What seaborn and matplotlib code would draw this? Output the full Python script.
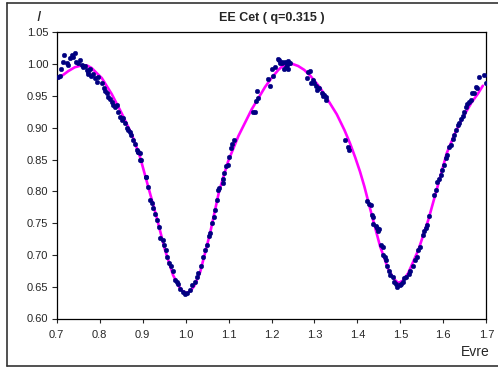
import matplotlib
matplotlib.use("Agg")
import matplotlib.pyplot as plt
from matplotlib.lines import Line2D
import seaborn as sns
import pandas as pd

# fitted light curve (phase, flux)
model_phase = [0.700, 0.715, 0.727, 0.742, 0.758, 0.770, 0.781, 0.805, 0.828, 0.851,
               0.875, 0.894, 0.907, 0.920, 0.933, 0.952, 0.971, 0.985, 0.993, 1.003,
               1.011, 1.020, 1.034, 1.057, 1.078, 1.099, 1.123, 1.154, 1.185, 1.200,
               1.216, 1.226, 1.237, 1.250, 1.262, 1.276, 1.290, 1.313, 1.330, 1.352,
               1.370, 1.383, 1.395, 1.406, 1.416, 1.426, 1.436, 1.453, 1.472, 1.485,
               1.495, 1.505, 1.518, 1.542, 1.565, 1.588, 1.608, 1.625, 1.639, 1.653,
               1.666, 1.680, 1.692]
model_flux = [0.976, 0.983, 0.989, 0.995, 0.998, 0.998, 0.994, 0.978, 0.953, 0.923,
              0.889, 0.854, 0.822, 0.790, 0.758, 0.708, 0.668, 0.650, 0.643, 0.640,
              0.643, 0.651, 0.673, 0.734, 0.800, 0.847, 0.887, 0.929, 0.964, 0.978,
              0.991, 0.997, 1.000, 1.000, 0.997, 0.991, 0.982, 0.963, 0.945, 0.921,
              0.896, 0.875, 0.853, 0.831, 0.808, 0.782, 0.756, 0.713, 0.677, 0.662,
              0.656, 0.659, 0.671, 0.708, 0.755, 0.811, 0.860, 0.888, 0.908, 0.925,
              0.940, 0.953, 0.966]

# observed points
obs_phase = [
    0.702, 0.708, 0.710, 0.715, 0.718, 0.723, 0.727, 0.731, 0.735, 0.739,
    0.743, 0.746, 0.750, 0.754, 0.758, 0.762, 0.766, 0.770, 0.774, 0.774,
    0.777, 0.781, 0.785, 0.789, 0.793, 0.797, 0.805, 0.811, 0.812, 0.816,
    0.820, 0.824, 0.828, 0.832, 0.836, 0.840, 0.843, 0.847, 0.851, 0.855,
    0.859, 0.863, 0.867, 0.871, 0.874, 0.878, 0.882, 0.886, 0.890, 0.894,
    0.896, 0.907,
    0.890, 0.894, 0.908, 0.913, 0.917, 0.921, 0.925, 0.929, 0.934, 0.939,
    0.940, 0.947, 0.950, 0.954, 0.957, 0.962, 0.965, 0.970, 0.975, 0.979,
    0.983, 0.987, 0.993, 0.999, 1.004, 1.010, 1.016, 1.022, 1.026, 1.030,
    1.035, 1.040, 1.045, 1.049, 1.055, 1.058, 1.061, 1.065, 1.068, 1.072,
    1.076,
    1.078, 1.086, 1.088, 1.090, 1.093, 1.098, 1.102, 1.105, 1.109, 1.113,
    1.158, 1.162, 1.164, 1.169, 1.166, 1.191, 1.197, 1.204, 1.202, 1.208,
    1.216, 1.220, 1.225, 1.228, 1.231, 1.235, 1.239, 1.243, 1.238,
    1.218, 1.224, 1.233, 1.241, 1.283, 1.286, 1.290, 1.291, 1.296, 1.300,
    1.304, 1.307, 1.311, 1.317, 1.319, 1.322, 1.327, 1.328, 1.372, 1.377,
    1.381,
    1.423, 1.428, 1.431, 1.433, 1.437, 1.437, 1.443, 1.446, 1.449, 1.451,
    1.454, 1.459, 1.460, 1.464, 1.467, 1.470, 1.474, 1.477, 1.482, 1.485,
    1.490, 1.493, 1.498, 1.501, 1.505, 1.508, 1.513, 1.519, 1.522, 1.529,
    1.534, 1.538, 1.542, 1.546, 1.552, 1.555, 1.560, 1.563, 1.567, 1.578,
    1.583, 1.586, 1.591, 1.594, 1.598, 1.602, 1.606, 1.609,
    1.614, 1.617, 1.622, 1.625, 1.629, 1.633, 1.637, 1.640, 1.645, 1.648,
    1.653, 1.656, 1.660, 1.664, 1.666, 1.671, 1.676, 1.679, 1.684, 1.695,
    1.699,
]
obs_flux = [
    0.980, 0.981, 0.993, 1.004, 1.014, 1.001, 0.999, 1.009, 1.014, 1.011,
    1.018, 1.004, 1.001, 1.006, 0.999, 0.996, 0.997, 0.991, 0.988, 0.985,
    0.993, 0.981, 0.985, 0.978, 0.972, 0.980, 0.970, 0.962, 0.957, 0.954,
    0.949, 0.945, 0.941, 0.936, 0.933, 0.936, 0.925, 0.917, 0.912, 0.915,
    0.907, 0.899, 0.896, 0.894, 0.889, 0.881, 0.875, 0.865, 0.862, 0.860,
    0.849, 0.823,
    0.862, 0.849, 0.823, 0.807, 0.786, 0.781, 0.773, 0.765, 0.755, 0.744,
    0.726, 0.723, 0.716, 0.708, 0.697, 0.687, 0.682, 0.674, 0.661, 0.658,
    0.655, 0.647, 0.642, 0.639, 0.640, 0.645, 0.653, 0.658, 0.666, 0.671,
    0.682, 0.697, 0.708, 0.716, 0.729, 0.734, 0.750, 0.760, 0.771, 0.786,
    0.802,
    0.805, 0.813, 0.820, 0.828, 0.839, 0.841, 0.854, 0.868, 0.875, 0.881,
    0.925, 0.925, 0.942, 0.946, 0.957, 0.976, 0.966, 0.981, 0.993, 0.996,
    1.008, 1.001, 1.004, 0.993, 1.004, 0.999, 1.005, 1.001, 0.993,
    1.006, 1.001, 0.996, 1.002, 0.978, 0.988, 0.989, 0.971, 0.975, 0.970,
    0.965, 0.959, 0.962, 0.954, 0.950, 0.951, 0.948, 0.943, 0.880, 0.870,
    0.865,
    0.784, 0.780, 0.779, 0.763, 0.760, 0.749, 0.746, 0.743, 0.737, 0.740,
    0.716, 0.713, 0.700, 0.696, 0.692, 0.682, 0.674, 0.668, 0.666, 0.658,
    0.654, 0.649, 0.653, 0.655, 0.658, 0.663, 0.665, 0.670, 0.674, 0.682,
    0.692, 0.697, 0.708, 0.713, 0.731, 0.737, 0.742, 0.747, 0.761, 0.794,
    0.802, 0.815, 0.820, 0.826, 0.834, 0.841, 0.852, 0.857,
    0.869, 0.873, 0.883, 0.888, 0.896, 0.904, 0.907, 0.913, 0.918, 0.925,
    0.933, 0.938, 0.941, 0.944, 0.954, 0.954, 0.964, 0.963, 0.979, 0.983,
    0.971,
]

x_ticks = [0.7, 0.8, 0.9, 1.0, 1.1, 1.2, 1.3, 1.4, 1.5, 1.6, 1.7]
y_ticks = [0.60, 0.65, 0.70, 0.75, 0.80, 0.85, 0.90, 0.95, 1.00, 1.05]

sns.set_style("white")
plt.rcParams['font.family'] = ['Liberation Sans', 'DejaVu Sans']

obs = pd.DataFrame({'phase': obs_phase, 'flux': obs_flux})
model = pd.DataFrame({'phase': model_phase, 'flux': model_flux})

fig = plt.figure(figsize=(4.98, 3.67), dpi=100)
ax = fig.add_axes([56.7 / 498, 1 - 318.5 / 367, (486.3 - 56.7) / 498, (318.5 - 32.3) / 367])

sns.lineplot(data=model, x='phase', y='flux', ax=ax, color='#FF00FF', linewidth=1.9, sort=True)
sns.scatterplot(data=obs, x='phase', y='flux', ax=ax, color='#000080', s=11,
                edgecolor='#000080', linewidth=0.3, zorder=3)

ax.set_xlim(0.7, 1.7)
ax.set_ylim(0.60, 1.05)
ax.set_xticks(x_ticks)
ax.set_xticklabels([f'{t:.1f}' for t in x_ticks])
ax.set_yticks(y_ticks)
ax.set_yticklabels([f'{t:.2f}' for t in y_ticks])
ax.set_xlabel('')
ax.set_ylabel('')
ax.tick_params(axis='y', direction='out', length=3.6, width=0.8, pad=2.5, labelsize=8, left=True)
ax.tick_params(axis='x', direction='out', length=2.6, width=0.8, pad=5.5, labelsize=8, bottom=True)
for sp in ax.spines.values():
    sp.set_color('black')
    sp.set_linewidth(0.9)

ax.set_title('EE Cet ( q=0.315 )', fontsize=9, fontweight='bold', pad=8)
fig.text(39 / 498, 1 - 21 / 367, 'I', fontsize=11, style='italic',
         ha='center', va='baseline')
fig.text(490 / 498, 1 - 356 / 367, 'Evre', fontsize=10, ha='right', va='baseline')

# outer frame
for xs, ys in [([7 / 498, 1.0], [1 - 3 / 367, 1 - 3 / 367]),
               ([7 / 498, 1.0], [1 - 365.5 / 367, 1 - 365.5 / 367]),
               ([7 / 498, 7 / 498], [1 - 3 / 367, 1 - 365.5 / 367])]:
    fig.add_artist(Line2D(xs, ys, transform=fig.transFigure, color='#333333', linewidth=1.2))

fig.savefig('out.png', dpi=100)
